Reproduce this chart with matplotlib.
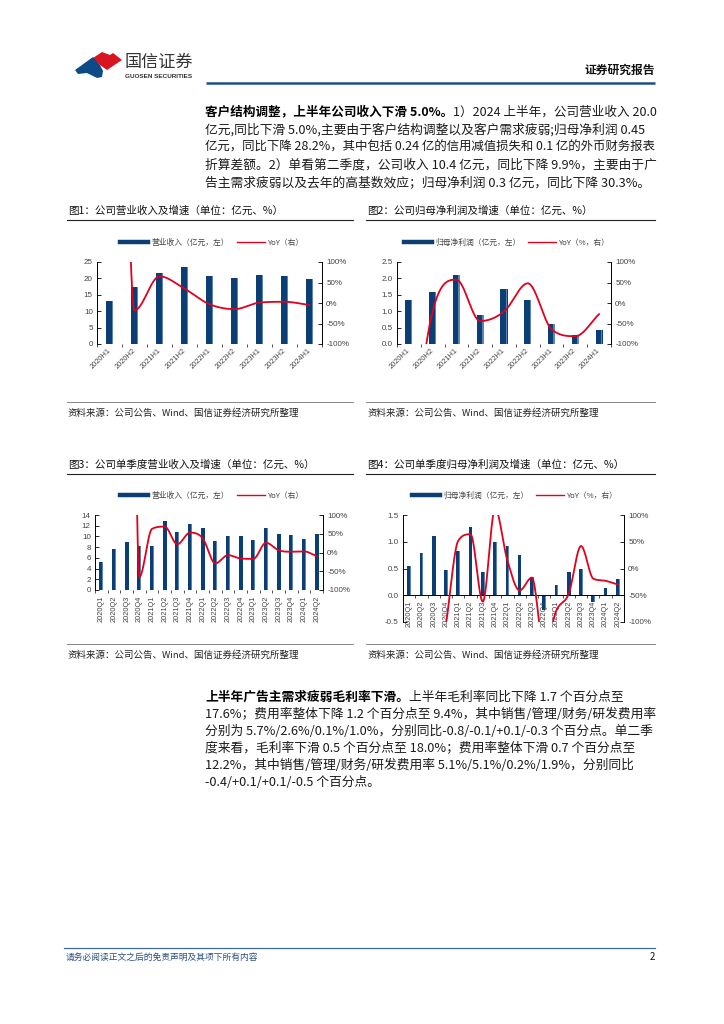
import matplotlib
matplotlib.use('Agg')
import matplotlib.pyplot as plt
import numpy as np
from matplotlib.lines import Line2D
from matplotlib.patches import Polygon

plt.rcParams['font.family'] = ['Noto Sans CJK SC', 'DejaVu Sans']
plt.rcParams['axes.unicode_minus'] = False

# ---------------- data ----------------
h_cats = ['2020H1', '2020H2', '2021H1', '2021H2', '2022H1', '2022H2', '2023H1', '2023H2', '2024H1']
rev_h = [13.0, 17.3, 21.5, 23.4, 20.7, 20.1, 20.9, 20.7, 19.9]
rev_h_yoy = [3000, -18, 65, 35, -3, -15, 1, 3, -5]
np_h = [1.33, 1.58, 2.10, 0.88, 1.67, 1.33, 0.62, 0.27, 0.44]
np_h_yoy = [-400, -20, 57, -44, -21, 48, -64, -81, -27]

q_cats = ['2020Q1', '2020Q2', '2020Q3', '2020Q4', '2021Q1', '2021Q2', '2021Q3', '2021Q4',
          '2022Q1', '2022Q2', '2022Q3', '2022Q4', '2023Q1', '2023Q2', '2023Q3', '2023Q4',
          '2024Q1', '2024Q2']
rev_q = [5.3, 7.7, 8.9, 8.3, 8.3, 12.9, 10.8, 12.4, 11.5, 9.1, 10.1, 10.1, 9.4, 11.5, 10.4, 10.2, 9.5, 10.4]
rev_q_yoy = [np.nan, np.nan, 3000, -65, 63, 69, 22, 53, 38, -29, -7, -16, -17, 26, 6, 2, 3, -9.9]
np_q = [0.55, 0.79, 1.11, 0.47, 0.82, 1.28, 0.44, 0.99, 0.92, 0.75, 0.34, -0.27, 0.19, 0.44, 0.49, -0.12, 0.14, 0.30]
np_q_yoy = [np.nan, np.nan, np.nan, -105, 52, 64, -62, 112, 15, -41, -17, -150, -78, -47, 42, -19, -23, -30]

yoy_ticks = [-100, -50, 0, 50, 100]
yoy_labels = ['-100%', '-50%', '0%', '50%', '100%']

NAVY = '#0b3e74'
RED = '#e1001e'
TXT = '#1a1a1a'
GRAY = '#444444'

W, H = 724, 1024
fig = plt.figure(figsize=(7.24, 10.24), dpi=100)
bg = fig.add_axes([0, 0, 1, 1])
bg.set_xlim(0, W)
bg.set_ylim(H, 0)
bg.axis('off')


def smooth(x, y, n=40):
    x = np.asarray(x, float)
    y = np.asarray(y, float)
    ok = np.isfinite(y)
    runs, cur = [], []
    for i in range(len(y)):
        if ok[i]:
            cur.append(i)
        else:
            if len(cur) > 1:
                runs.append(cur)
            cur = []
    if len(cur) > 1:
        runs.append(cur)
    out = []
    for r in runs:
        xs, ys = x[r], y[r]
        d = np.diff(ys) / np.diff(xs)
        m = np.zeros(len(xs))
        m[0], m[-1] = d[0], d[-1]
        for i in range(1, len(xs) - 1):
            if d[i - 1] * d[i] <= 0:
                m[i] = 0
            else:
                v = 0.5 * (d[i - 1] + d[i])
                lim = 3 * min(abs(d[i - 1]), abs(d[i]))
                m[i] = np.sign(v) * min(abs(v), lim)
        px, py = [], []
        for i in range(len(xs) - 1):
            h = xs[i + 1] - xs[i]
            t = np.linspace(0, 1, n)
            h00 = 2 * t**3 - 3 * t**2 + 1
            h10 = t**3 - 2 * t**2 + t
            h01 = -2 * t**3 + 3 * t**2
            h11 = t**3 - t**2
            seg = h00 * ys[i] + h10 * h * m[i] + h01 * ys[i + 1] + h11 * h * m[i + 1]
            px.extend(xs[i] + t * h)
            py.extend(seg)
        out.append((np.array(px), np.array(py)))
    return out


def chart(rect, cats, bars, yoy, ylim, yticks, yfmt, rot, labels, leg_xy, zero_axis=False):
    l, r, t, b = rect
    ax = fig.add_axes([l / W, 1 - b / H, (r - l) / W, (b - t) / H])
    ax.spines['top'].set_visible(False)
    ax.spines['right'].set_visible(False)
    ax.spines['left'].set_linewidth(0.7)
    if zero_axis:
        ax.spines['bottom'].set_position(('data', 0))
        ax.spines['bottom'].set_linewidth(0.7)
    else:
        ax.spines['bottom'].set_visible(False)
    x = np.arange(len(cats))
    ax.bar(x, bars, width=0.3, color=NAVY, zorder=2)
    ax.bar(x + 0.11, bars, width=0.06, color='#5b86b3', zorder=2.1)
    ax.set_xlim(-0.5, len(cats) - 0.5)
    ax.set_ylim(*ylim)
    ax.set_yticks(yticks)
    ax.set_yticklabels([yfmt(v) for v in yticks])
    ax.set_xticks(x)
    if rot == 45:
        ax.set_xticklabels(cats, rotation=45, ha='right', va='center', rotation_mode='anchor')
    else:
        ax.set_xticklabels(cats, rotation=90, ha='center', va='top')
    ax.set_xticks(np.arange(len(cats) + 1) - 0.5, minor=True)
    ax.tick_params(axis='x', which='major', length=0, labelsize=5.3, labelcolor=GRAY, pad=4)
    ax.tick_params(axis='x', which='minor', length=2.5, direction='out', color='#333333', width=0.6)
    ax.tick_params(axis='y', direction='in', length=3, labelsize=5.8, labelcolor=GRAY, width=0.6, pad=3)
    for lab in ax.get_xticklabels() + ax.get_yticklabels():
        lab.set_family(['Liberation Sans', 'DejaVu Sans'])
    ax.patch.set_alpha(0)
    ax2 = ax.twinx()
    ax2.set_ylim(-100, 100)
    ax2.set_yticks(yoy_ticks)
    ax2.set_yticklabels(yoy_labels)
    ax2.tick_params(axis='y', direction='in', length=3, labelsize=5.8, labelcolor=GRAY, width=0.6, pad=3)
    for lab in ax2.get_yticklabels():
        lab.set_family(['Liberation Sans', 'DejaVu Sans'])
    for s in ['top', 'bottom', 'left']:
        ax2.spines[s].set_visible(False)
    ax2.spines['right'].set_linewidth(0.7)
    for xs, ys in smooth(x, yoy):
        ax2.plot(xs, ys, color=RED, lw=1.3, solid_capstyle='round')
    handles = [Line2D([], [], color=NAVY, lw=3.2), Line2D([], [], color=RED, lw=1.0)]
    lg = ax.legend(handles, labels, loc='center', bbox_to_anchor=(leg_xy[0] / W, 1 - leg_xy[1] / H),
                   bbox_transform=fig.transFigure, ncol=2, frameon=False, fontsize=5.6,
                   handlelength=3.6, columnspacing=1.0, handletextpad=0.4)
    for tx in lg.get_texts():
        tx.set_color(GRAY)
    return ax


fmt_int = lambda v: '%d' % v
fmt_1 = lambda v: '%.1f' % v

chart((97, 322, 262, 344), h_cats, rev_h, rev_h_yoy, (0, 25), [0, 5, 10, 15, 20, 25], fmt_int, 45,
      ['营业收入（亿元，左）', 'YoY（右）'], (212, 243))
chart((397, 611, 262, 344), h_cats, np_h, np_h_yoy, (0, 2.5), [0, 0.5, 1.0, 1.5, 2.0, 2.5], fmt_1, 45,
      ['归母净利润（亿元，左）', 'YoY（%，右）'], (507, 243))
chart((95, 323, 515, 590), q_cats, rev_q, rev_q_yoy, (0, 14), [0, 2, 4, 6, 8, 10, 12, 14], fmt_int, 90,
      ['营业收入（亿元，左）', 'YoY（右）'], (212, 496))
chart((403, 624, 515, 622), q_cats, np_q, np_q_yoy, (-0.5, 1.5), [-0.5, 0.0, 0.5, 1.0, 1.5], fmt_1, 90,
      ['归母净利润（亿元，左）', 'YoY（%，右）'], (515, 496), zero_axis=True)

# ---------------- header ----------------
red_logo = [(93, 58), (102, 52), (110, 55), (113, 53), (122, 60), (107, 70), (100, 65)]
blue_logo = [(75, 70), (93, 57), (100, 65), (103, 71), (102, 77), (97, 78), (87, 73), (78, 74)]
bg.add_patch(Polygon(red_logo, closed=True, color='#d7141f', lw=0))
bg.add_patch(Polygon(blue_logo, closed=True, color='#0e4a85', lw=0))
bg.text(125, 62, '国信证券', fontsize=12.3, color='#333333', va='center', ha='left')
bg.text(125, 77, 'GUOSEN SECURITIES', fontsize=4.6, color='#333333', va='center', ha='left',
        family=['Liberation Sans', 'DejaVu Sans'], weight='bold')
bg.plot([206, 655], [82.5, 82.5], color='#1f4f8a', lw=1.8, solid_capstyle='butt')
bg.text(655, 70, '证券研究报告', fontsize=8.5, color='#111111', va='center', ha='right', weight='bold')

# ---------------- paragraphs ----------------
FS = 9.2
X0, X1 = 205, 655
para1 = [
    ('客户结构调整，上半年公司收入下滑 5.0%。', '1）2024 上半年，公司营业收入 20.0'),
    ('', '亿元,同比下滑 5.0%,主要由于客户结构调整以及客户需求疲弱;归母净利润 0.45'),
    ('', '亿元，同比下降 28.2%，其中包括 0.24 亿的信用减值损失和 0.1 亿的外币财务报表'),
    ('', '折算差额。2）单看第二季度，公司收入 10.4 亿元，同比下降 9.9%，主要由于广'),
    ('', '告主需求疲弱以及去年的高基数效应；归母净利润 0.3 亿元，同比下降 30.3%。'),
]
para2 = [
    ('上半年广告主需求疲弱毛利率下滑。', '上半年毛利率同比下降 1.7 个百分点至'),
    ('', '17.6%；费用率整体下降 1.2 个百分点至 9.4%，其中销售/管理/财务/研发费用率'),
    ('', '分别为 5.7%/2.6%/0.1%/1.0%，分别同比-0.8/-0.1/+0.1/-0.3 个百分点。单二季'),
    ('', '度来看，毛利率下滑 0.5 个百分点至 18.0%；费用率整体下滑 0.7 个百分点至'),
    ('', '12.2%，其中销售/管理/财务/研发费用率 5.1%/5.1%/0.2%/1.9%，分别同比'),
    ('', '-0.4/+0.1/+0.1/-0.5 个百分点。'),
]

line_items = []


def write_para(lines, y0, dy):
    for i, (bold, reg) in enumerate(lines):
        y = y0 + i * dy
        parts = []
        if bold:
            parts.append(bg.text(X0, y, bold, fontsize=FS, weight='bold', color='#000000',
                                 va='center', ha='left'))
        parts.append(bg.text(X0, y, reg, fontsize=FS, color=TXT, va='center', ha='left'))
        line_items.append(parts)


write_para(para1, 112, 17.8)
write_para(para2, 697, 17.2)

# ---------------- chart titles / sources ----------------
LX, RX = 68, 367
titles = [(LX, 211, '图1：公司营业收入及增速（单位：亿元、%）'),
          (RX, 211, '图2：公司归母净利润及增速（单位：亿元、%）'),
          (LX, 465, '图3：公司单季度营业收入及增速（单位：亿元、%）'),
          (RX, 465, '图4：公司单季度归母净利润及增速（单位：亿元、%）')]
for x0, y0, s in titles:
    bg.text(x0, y0, s, fontsize=7.6, color='#111111', va='center', ha='left')
for y in (220, 474):
    bg.plot([LX - 1, 353], [y, y], color='#222222', lw=0.8)
    bg.plot([RX - 1, 655], [y, y], color='#222222', lw=0.8)
for y in (402, 644):
    bg.plot([LX - 1, 353], [y, y], color='#888888', lw=0.7)
    bg.plot([RX - 1, 655], [y, y], color='#888888', lw=0.7)
src = '资料来源：公司公告、Wind、国信证券经济研究所整理'
for y in (413, 655):
    bg.text(LX, y, src, fontsize=6.8, color='#222222', va='center', ha='left')
    bg.text(RX, y, src, fontsize=6.8, color='#222222', va='center', ha='left')

# ---------------- footer ----------------
bg.plot([64, 655], [948, 948], color='#3d6a99', lw=0.9)
bg.text(66, 957, '请务必阅读正文之后的免责声明及其项下所有内容', fontsize=6.3, color='#2b4f7e',
        va='center', ha='left', style='italic')
bg.text(655, 957, '2', fontsize=7, color='#111111', va='center', ha='right')

# place regular text after bold lead-ins and shrink any line that overruns the text column
fig.canvas.draw()
rend = fig.canvas.get_renderer()
sx = W / fig.bbox.width
for parts in line_items:
    if len(parts) == 2:
        bb = parts[0].get_window_extent(renderer=rend)
        parts[1].set_x(bb.x1 * sx)
    fig.canvas.draw()
    bbr = parts[-1].get_window_extent(renderer=rend)
    right = bbr.x1 * sx
    if right > X1:
        scale = (X1 - X0) / (right - X0)
        for p in parts:
            p.set_fontsize(FS * scale)
        if len(parts) == 2:
            fig.canvas.draw()
            bb = parts[0].get_window_extent(renderer=rend)
            parts[1].set_x(bb.x1 * sx)

fig.savefig('out.png', dpi=100)
